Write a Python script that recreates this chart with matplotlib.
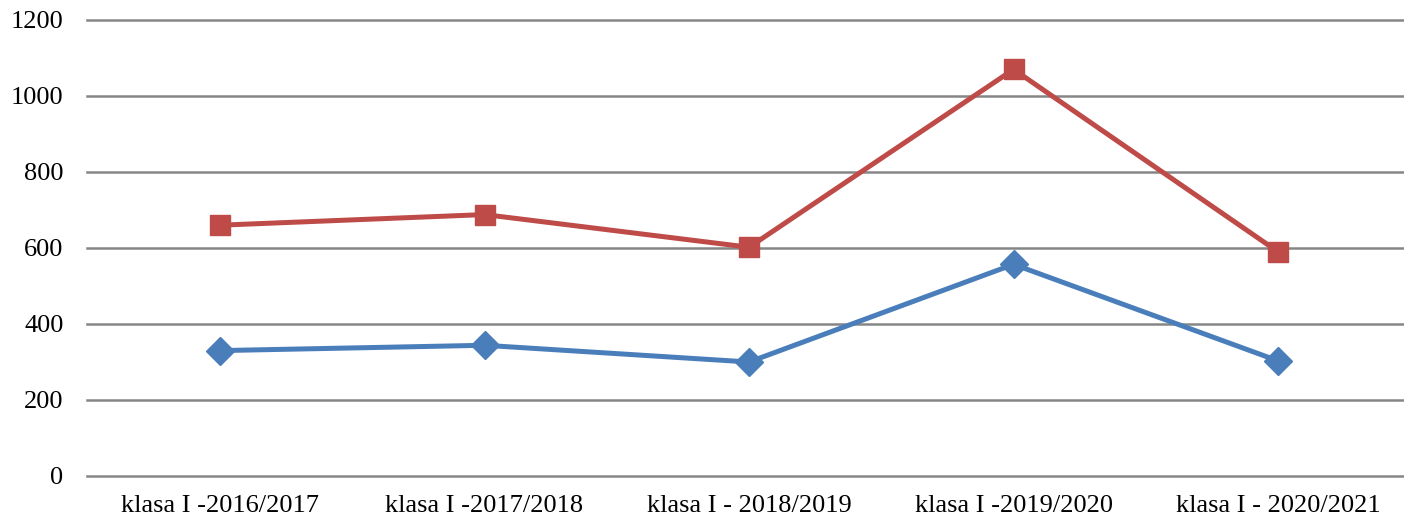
import matplotlib
matplotlib.use("Agg")
import matplotlib.pyplot as plt

categories = ["klasa I -2016/2017", "klasa I -2017/2018", "klasa I - 2018/2019",
              "klasa I -2019/2020", "klasa I - 2020/2021"]
series_blue = [330, 344, 300, 557, 303]
series_red = [660, 688, 602, 1070, 590]
yticks = [0, 200, 400, 600, 800, 1000, 1200]

plt.rcParams['font.family'] = ['Liberation Serif', 'DejaVu Serif']

fig = plt.figure(figsize=(14.04, 5.2), dpi=100)
ax = fig.add_axes([87/1404, 44/520, 1 - 87/1404, (476-20)/520])
x = list(range(len(categories)))

ax.plot(x, series_blue, color="#4A7EBB", lw=3.6, marker="D", markersize=14,
        zorder=3, solid_joinstyle="miter")
ax.plot(x, series_red, color="#BE4B48", lw=3.6, marker="s", markersize=14,
        zorder=3, solid_joinstyle="miter")

ax.set_ylim(0, 1200)
ax.set_xlim(-0.503, 4.476)
ax.set_yticks(yticks)
ax.set_xticks(x)
ax.set_xticklabels(categories)
ax.tick_params(axis='both', length=0, labelsize=19, colors="black")
ax.tick_params(axis='y', pad=17)
ax.tick_params(axis='x', pad=14)
ax.grid(axis='y', color="#868686", lw=1.8)
for gl in ax.get_ygridlines():
    gl.set_clip_on(False)
ax.set_axisbelow(True)
for s in ax.spines.values():
    s.set_visible(False)

fig.savefig("out.png", dpi=100, facecolor="white")
